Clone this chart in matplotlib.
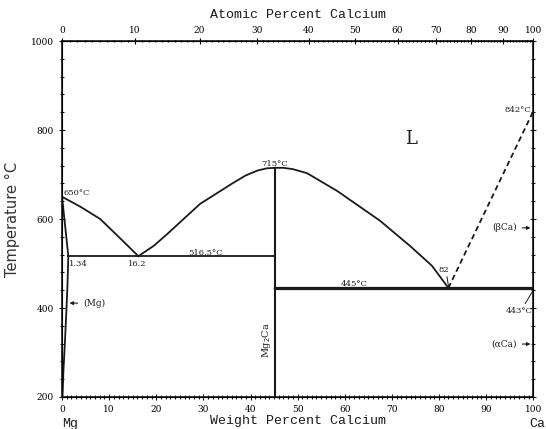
import numpy as np
import matplotlib.pyplot as plt

# Mg-Ca phase diagram (weight percent Ca vs temperature)
mg_liq_wt = [0, 4, 8.1, 12.3, 16.2]
mg_liq_t = [650, 627, 600, 557, 516.5]

mg2ca_left_wt = [16.2, 19.5, 22.3, 29.3, 36.3, 39, 41.5, 43.5, 45.2]
mg2ca_left_t = [516.5, 540, 566, 634, 681, 698, 709, 714, 715]

mg2ca_right_wt = [45.2, 47, 49, 52, 58.4, 67.5, 73.9, 78.5, 82]
mg2ca_right_t = [715, 715, 712, 703, 663, 596, 539, 495, 445]

ca_liq_wt = [82, 100]
ca_liq_t = [445, 842]

mg_sol_wt = [0, 1.34]
mg_sol_t = [650, 516.5]

mg_solvus_wt = [1.34, 1.15, 0.95, 0.6, 0.3, 0.1]
mg_solvus_t = [516.5, 450, 400, 320, 260, 200]

eut1_wt = [1.34, 45.2]
eut1_t = 516.5
eut2_wt = [45.2, 100]
eut2_t = 445
trans_t = 443

mg2ca_wt = 45.2
at_ticks = np.arange(0, 101, 10)


def wt_from_at(a):
    a = np.asarray(a, dtype=float)
    return a * 40.08 / (a * 40.08 + (100 - a) * 24.305) * 100


fig = plt.figure(figsize=(5.46, 4.29), dpi=100)
ax = fig.add_axes([0.1136, 0.0746, 0.8630, 0.8298])

lc = '#1a1a1a'
lw = 1.3
ax.plot(mg_liq_wt, mg_liq_t, color=lc, lw=lw)
ax.plot(mg2ca_left_wt, mg2ca_left_t, color=lc, lw=lw)
ax.plot(mg2ca_right_wt, mg2ca_right_t, color=lc, lw=lw)
ax.plot(ca_liq_wt, ca_liq_t, color=lc, lw=lw, ls=(0, (3, 2)))
ax.plot(mg_sol_wt, mg_sol_t, color=lc, lw=lw)
ax.plot(mg_solvus_wt, mg_solvus_t, color=lc, lw=lw)
ax.plot(eut1_wt, [eut1_t, eut1_t], color=lc, lw=lw)
ax.plot(eut2_wt, [eut2_t, eut2_t], color=lc, lw=1.6)
ax.plot(eut2_wt, [trans_t, trans_t], color=lc, lw=1.6)
ax.plot([mg2ca_wt, mg2ca_wt], [200, 715], color=lc, lw=1.5)

ax.set_xlim(0, 100)
ax.set_ylim(200, 1000)
ax.set_xticks(np.arange(0, 101, 10))
ax.set_xticks(np.arange(0, 101, 1), minor=True)
ax.set_yticks(np.arange(200, 1001, 200))
ax.set_yticks(np.arange(200, 1001, 40), minor=True)
ax.tick_params(which='both', direction='inout', top=True, right=True,
               labelsize=6.5, width=0.8, color=lc)
ax.tick_params(which='major', length=5)
ax.tick_params(which='minor', length=2.5)
for lab in ax.get_xticklabels() + ax.get_yticklabels():
    lab.set_family('DejaVu Serif')
for s in ax.spines.values():
    s.set_linewidth(1.2)
    s.set_color(lc)

top = ax.twiny()
top.set_xlim(0, 100)
top.set_xticks(wt_from_at(at_ticks))
top.set_xticklabels([str(v) for v in at_ticks], family='DejaVu Serif')
top.set_xticks(wt_from_at(np.arange(0, 101, 1)), minor=True)
top.tick_params(which='both', direction='inout', labelsize=6.5, width=0.8, pad=2)
top.tick_params(which='major', length=5)
top.tick_params(which='minor', length=2)

lab_font = dict(family='Liberation Mono', fontsize=9.5, color=lc)
fig.text(0.546, 0.965, 'Atomic Percent Calcium', ha='center', va='center', **lab_font)
fig.text(0.546, 0.018, 'Weight Percent Calcium', ha='center', va='center', **lab_font)
ax.text(0, -0.075, 'Mg', transform=ax.transAxes, ha='left', va='center', **lab_font)
fig.text(0.999, 0.012, 'Ca', ha='right', va='center', **lab_font)
ax.set_ylabel('Temperature °C', fontsize=10.5, color='#333333')
ax.yaxis.set_label_coords(-0.09, 0.5)

ann = dict(fontsize=6, family='DejaVu Serif', color=lc)
ax.text(0.4, 659, '650°C', ha='left', va='center', **ann)
ax.text(45, 724, '715°C', ha='center', va='center', **ann)
ax.text(99.5, 845, '842°C', ha='right', va='center', **ann)
ax.text(1.4, 500, '1.34', ha='left', va='center', **ann)
ax.text(16, 500, '16.2', ha='center', va='center', **ann)
ax.text(30.5, 524, '516.5°C', ha='center', va='center', **ann)
ax.text(62, 455, '445°C', ha='center', va='center', **ann)
ax.text(81, 485, '82', ha='center', va='center', **ann)
ax.plot([81.7, 82], [470, 450], color=lc, lw=0.7)
ax.text(97, 393, '443°C', ha='center', va='center', **ann)
ax.plot([98.3, 100], [410, 440], color=lc, lw=0.7)
ax.text(74, 780, 'L', ha='center', va='center', fontsize=13, family='DejaVu Serif', color=lc)
ax.text(43.4, 328, 'Mg$_2$Ca', rotation=90, ha='center', va='center',
        fontsize=7, family='DejaVu Serif', color=lc)

phase = dict(fontsize=6.5, family='DejaVu Serif', color=lc)
ax.annotate('(Mg)', xy=(1.0, 411), xytext=(4.5, 411), ha='left', va='center',
            arrowprops=dict(arrowstyle='-|>', color=lc, lw=0.8, mutation_scale=5), **phase)
ax.annotate('(βCa)', xy=(100, 580), xytext=(96.5, 580), ha='right', va='center',
            arrowprops=dict(arrowstyle='-|>', color=lc, lw=0.8, mutation_scale=5), **phase)
ax.annotate('(αCa)', xy=(100, 319), xytext=(96.5, 319), ha='right', va='center',
            arrowprops=dict(arrowstyle='-|>', color=lc, lw=0.8, mutation_scale=5), **phase)

fig.savefig('out.png', dpi=100)
